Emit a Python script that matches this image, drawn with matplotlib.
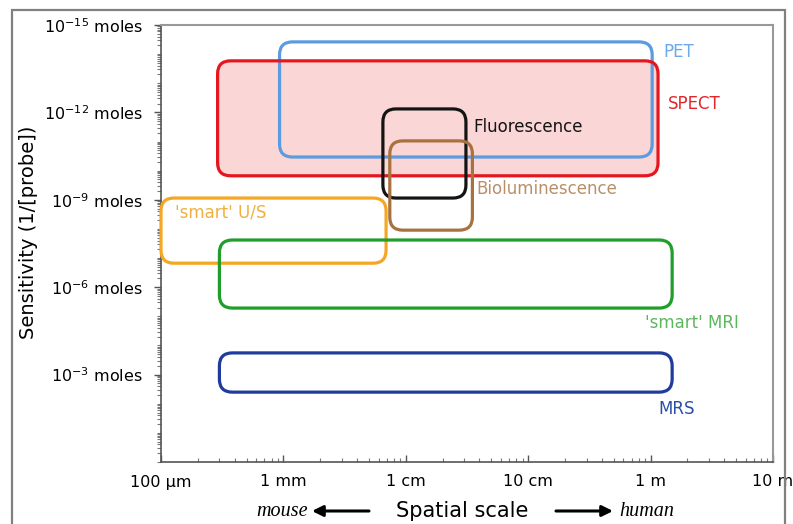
import matplotlib
matplotlib.use('Agg')
import matplotlib.pyplot as plt
from matplotlib.patches import FancyBboxPatch, Rectangle
from matplotlib.ticker import LogLocator, FixedLocator, NullFormatter

# imaging methods and the region each one covers
methods = ['PET', 'SPECT', 'Fluorescence', 'Bioluminescence',
           "'smart' U/S", "'smart' MRI", 'MRS']
# spatial scale extent (metres)
scale_lo = [9.3e-4, 2.9e-4, 6.5e-3, 7.4e-3, 1.0e-4, 3.0e-4, 3.0e-4]
scale_hi = [1.03, 1.15, 3.1e-2, 3.5e-2, 6.9e-3, 1.5, 1.5]
# sensitivity extent (moles)
moles_lo = [3.8e-15, 1.7e-14, 7.6e-13, 9.5e-12, 8.7e-10, 2.4e-8, 1.8e-4]
moles_hi = [3.4e-11, 1.5e-10, 8.7e-10, 1.1e-8, 1.5e-7, 5.2e-6, 4.0e-3]

x_ticks = [1e-4, 1e-3, 1e-2, 1e-1, 1, 10]
x_labels = ['100 µm', '1 mm', '1 cm', '10 cm', '1 m', '10 m']
y_ticks_moles = [1e-15, 1e-12, 1e-9, 1e-6, 1e-3]
y_labels = [r'$10^{-15}$ moles', r'$10^{-12}$ moles', r'$10^{-9}$ moles',
            r'$10^{-6}$ moles', r'$10^{-3}$ moles']

line_colors = ['#5b9be0', '#e5161e', '#141414', '#a8723e', '#f5a623', '#1f9e2a', '#1f3c9c']
text_colors = ['#6aaae8', '#e2262c', '#141414', '#b89068', '#f0b040', '#5cb85c', '#2a4ea8']
# label anchor corner of the box and offset in pixels
label_anchor = [('hi', 'hi', 11, -10), ('hi', 'hi', 10, -43), ('hi', 'hi', 7, -18),
                ('hi', 'hi', 4, -48), ('lo', 'hi', 14, -14), ('hi', 'lo', -27, -15),
                ('hi', 'lo', -14, -17)]

W, H = 793, 524
fig = plt.figure(figsize=(W / 100, H / 100), dpi=100)
ax_l, ax_r, ax_t, ax_b = 161, 773, 25, 462
ax = fig.add_axes([ax_l / W, 1 - ax_b / H, (ax_r - ax_l) / W, (ax_b - ax_t) / H])

ax.set_xscale('log')
ax.set_yscale('log')
ax.set_xlim(1e-4, 10)
ax.set_ylim(1, 1e15)

ax.xaxis.set_major_locator(FixedLocator(x_ticks))
ax.set_xticklabels(x_labels, fontsize=11.5)
ax.xaxis.set_minor_locator(LogLocator(base=10, subs=range(2, 10), numticks=50))
ax.xaxis.set_minor_formatter(NullFormatter())

ax.yaxis.set_major_locator(FixedLocator([1 / m for m in y_ticks_moles]))
ax.set_yticklabels(y_labels, fontsize=11.5)
ax.yaxis.set_minor_locator(LogLocator(base=10, subs=range(1, 10), numticks=50))
ax.yaxis.set_minor_formatter(NullFormatter())

ax.tick_params(axis='x', which='major', direction='in', length=5, width=1, color='#555', pad=9)
ax.tick_params(axis='x', which='minor', direction='in', length=3, width=0.8, color='#777')
ax.tick_params(axis='y', which='major', direction='out', length=5, width=1, color='#555', pad=8)
ax.tick_params(axis='y', which='minor', direction='out', length=3, width=0.8, color='#777')
for side in ['left', 'bottom']:
    ax.spines[side].set_color('#555')
    ax.spines[side].set_linewidth(1.2)
for side in ['top', 'right']:
    ax.spines[side].set_color('#999')
    ax.spines[side].set_linewidth(1.5)

# rounded boxes, drawn in axes coords so the corners stay round
aspect = (ax_r - ax_l) / (ax_b - ax_t)
rsize = 13 / (ax_r - ax_l)
to_axes = ax.transAxes.inverted()
for i, name in enumerate(methods):
    (x0, y0), (x1, y1) = to_axes.transform(ax.transData.transform(
        [[scale_lo[i], 1 / moles_hi[i]], [scale_hi[i], 1 / moles_lo[i]]]))
    if name == 'SPECT':
        fill = FancyBboxPatch((x0, y0), x1 - x0, y1 - y0,
                              boxstyle=f'round,pad=0,rounding_size={rsize}',
                              mutation_aspect=aspect, transform=ax.transAxes,
                              facecolor='#fad6d6', edgecolor='none', zorder=1, clip_on=False)
        ax.add_patch(fill)
    box = FancyBboxPatch((x0, y0), x1 - x0, y1 - y0,
                         boxstyle=f'round,pad=0,rounding_size={rsize}',
                         mutation_aspect=aspect, transform=ax.transAxes,
                         facecolor='none', edgecolor=line_colors[i], linewidth=2.3,
                         zorder=2 + i, clip_on=False)
    ax.add_patch(box)

    cx, cy, dx, dy = label_anchor[i]
    px = scale_hi[i] if cx == 'hi' else scale_lo[i]
    py = 1 / moles_lo[i] if cy == 'hi' else 1 / moles_hi[i]
    ax.annotate(name, xy=(px, py), xytext=(dx, dy), textcoords='offset pixels',
                ha='left', va='center', fontsize=12, color=text_colors[i], zorder=20)

fig.text(28 / W, 1 - 232 / H, 'Sensitivity (1/[probe])', rotation=90, fontsize=14,
         ha='center', va='center')

# x axis title with arrows
ty = 1 - 511 / H
fig.text(308 / W, ty, 'mouse', fontsize=14.5, family='Liberation Serif', style='italic',
         ha='right', va='center')
fig.text(462 / W, ty, 'Spatial scale', fontsize=15, ha='center', va='center')
fig.text(619 / W, ty, 'human', fontsize=14.5, family='Liberation Serif', style='italic',
         ha='left', va='center')
arrow = dict(arrowstyle='-|>', lw=2.2, color='black', mutation_scale=16, shrinkA=0, shrinkB=0)
fig.add_artist(plt.Annotation('', xy=(312 / W, ty), xytext=(369 / W, ty),
                              xycoords='figure fraction', arrowprops=arrow))
fig.add_artist(plt.Annotation('', xy=(613 / W, ty), xytext=(556 / W, ty),
                              xycoords='figure fraction', arrowprops=arrow))

# outer frame of the picture
fig.add_artist(Rectangle((12 / W, -0.1), (785 - 12) / W, 1 - 10 / H + 0.1,
                         transform=fig.transFigure, fill=False,
                         edgecolor='#808080', linewidth=1.6))

fig.savefig('out.png', dpi=100)
